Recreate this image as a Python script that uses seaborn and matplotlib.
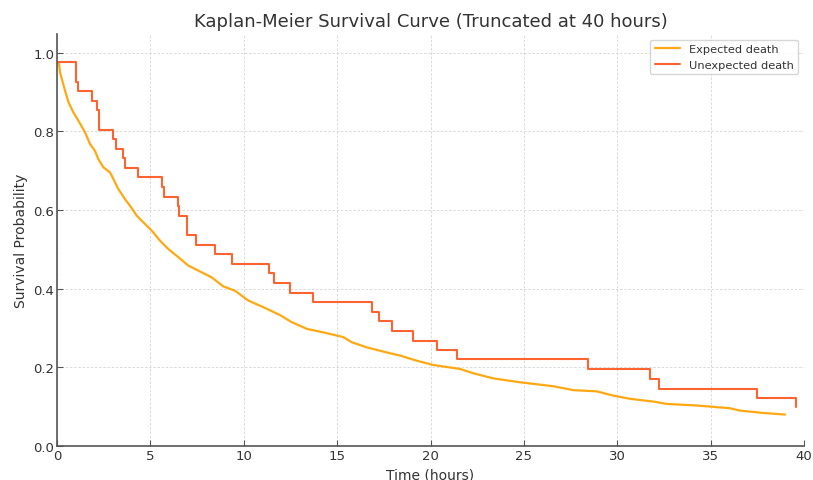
import matplotlib
matplotlib.use("Agg")
import matplotlib.pyplot as plt
import pandas as pd
import seaborn as sns

# Kaplan-Meier estimates
time_expected = [0, 0.11, 0.16, 0.28, 0.43, 0.61, 0.87, 1.14, 1.5, 1.77, 2.03, 2.21, 2.48, 2.84,
                 3.02, 3.28, 3.64, 3.91, 4.27, 4.62, 5.07, 5.52, 5.96, 6.5, 7.03, 7.57, 8.28, 8.9,
                 9.53, 10.24, 11.05, 11.94, 12.57, 13.37, 14.26, 15.33, 15.78, 16.58, 17.65, 18.37,
                 19.26, 20.15, 21.0, 21.58, 22.29, 23.36, 24.8, 26.58, 27.65, 28.9, 29.79, 30.68,
                 31.93, 32.65, 34.25, 36.04, 36.57, 37.82, 38.98]
surv_expected = [0.975, 0.972, 0.951, 0.930, 0.904, 0.875, 0.849, 0.828, 0.798, 0.768, 0.751, 0.730,
                 0.709, 0.696, 0.679, 0.654, 0.628, 0.611, 0.586, 0.569, 0.548, 0.522, 0.501, 0.480,
                 0.459, 0.446, 0.429, 0.406, 0.395, 0.370, 0.353, 0.333, 0.315, 0.298, 0.289, 0.277,
                 0.264, 0.251, 0.238, 0.230, 0.217, 0.206, 0.200, 0.196, 0.185, 0.172, 0.162, 0.152,
                 0.142, 0.139, 0.128, 0.120, 0.113, 0.107, 0.103, 0.096, 0.090, 0.084, 0.080]

time_unexpected = [0, 1.02, 1.14, 1.86, 2.12, 2.27, 3.02, 3.15, 3.51, 3.64, 4.36, 5.64, 5.75, 6.46,
                   6.55, 6.94, 7.44, 8.46, 9.35, 11.35, 11.6, 12.48, 13.72, 16.85, 17.24, 17.94,
                   19.05, 20.33, 21.44, 28.43, 31.75, 32.24, 37.47, 39.55]
surv_unexpected = [0.976, 0.927, 0.902, 0.878, 0.854, 0.805, 0.780, 0.756, 0.732, 0.707, 0.683,
                   0.659, 0.634, 0.610, 0.585, 0.537, 0.512, 0.488, 0.463, 0.439, 0.415, 0.390,
                   0.366, 0.341, 0.317, 0.293, 0.268, 0.244, 0.220, 0.195, 0.171, 0.146, 0.122, 0.098]

groups = ["Expected death", "Unexpected death"]
colors = ["#FFA812", "#FF6430"]

sns.set_theme(style="whitegrid")
plt.rcParams["font.family"] = ["DejaVu Sans"]

df_exp = pd.DataFrame({"time": time_expected, "surv": surv_expected})
df_unexp = pd.DataFrame({"time": time_unexpected, "surv": surv_unexpected})

fig = plt.figure(figsize=(8.13, 4.81), dpi=100)
ax = fig.add_axes([0.0701, 0.0707, 0.9189, 0.8566])

# expected-death curve has very many tiny steps, so a plain line through the read points
sns.lineplot(data=df_exp, x="time", y="surv", ax=ax, color=colors[0], lw=1.6,
             estimator=None, sort=False, label=groups[0])
sns.lineplot(data=df_unexp, x="time", y="surv", ax=ax, color=colors[1], lw=1.5,
             drawstyle="steps-post", estimator=None, sort=False, label=groups[1])

ax.set_xlim(0, 40)
ax.set_ylim(0, 1.048)
ax.set_xticks([0, 5, 10, 15, 20, 25, 30, 35, 40])
ax.set_yticks([0.0, 0.2, 0.4, 0.6, 0.8, 1.0])
ax.set_yticklabels(["0.0", "0.2", "0.4", "0.6", "0.8", "1.0"])

ax.set_facecolor("white")
ax.grid(True, linestyle=(0, (3, 2)), color="#d4d4d4", linewidth=0.6)
for side in ["top", "right"]:
    ax.spines[side].set_visible(False)
for side in ["left", "bottom"]:
    ax.spines[side].set_color("#555555")
    ax.spines[side].set_linewidth(1.2)
ax.tick_params(axis="both", direction="in", length=4, width=0.8, color="#555555",
               labelsize=9.5, labelcolor="#333333", pad=2, left=True, bottom=True)

ax.set_title("Kaplan-Meier Survival Curve (Truncated at 40 hours)", fontsize=13,
             color="#333333", pad=6)
ax.set_xlabel("Time (hours)", fontsize=10, color="#333333", labelpad=4)
ax.set_ylabel("Survival Probability", fontsize=10, color="#333333", labelpad=4)

leg = ax.legend(loc="upper right", fontsize=8.2, frameon=True, handlelength=2.2,
                borderaxespad=0.5)
leg.get_frame().set_edgecolor("#cccccc")
for t in leg.get_texts():
    t.set_color("#333333")

fig.savefig("out.png", dpi=100)
